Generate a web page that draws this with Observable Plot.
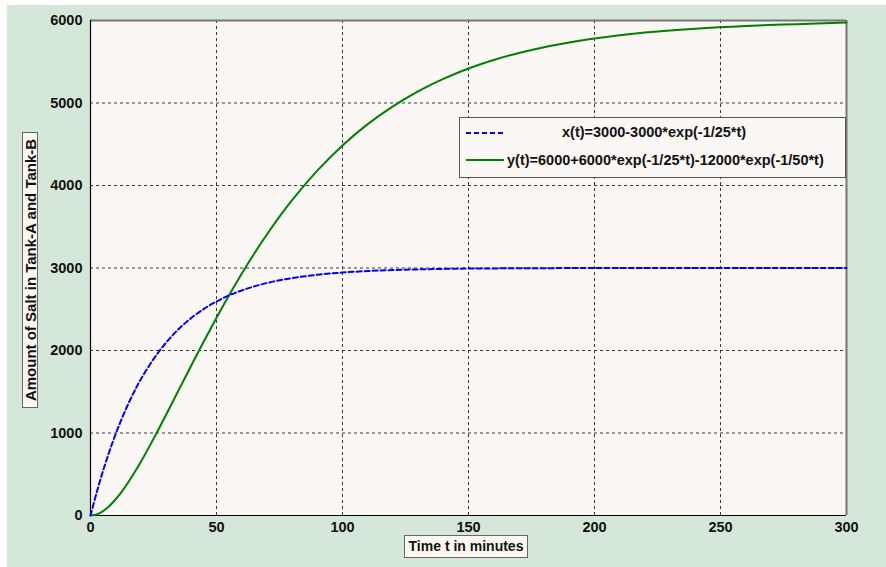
<!DOCTYPE html>
<html>
<head>
<meta charset="utf-8">
<script src="https://cdn.jsdelivr.net/npm/d3@7"></script>
<script src="https://cdn.jsdelivr.net/npm/@observablehq/plot@0.6"></script>
<style>
  html, body { margin: 0; padding: 0; background: #ffffff; }
  #wrap { position: relative; width: 886px; height: 567px; overflow: hidden; font-family: "Liberation Sans", Arial, sans-serif; }
  #bg { position: absolute; left: 7px; top: 5px; width: 879px; height: 562px; background: #d5e7d8; }
  #chart { position: absolute; left: 0; top: 0; }
  .lbl { position: absolute; background: #fdf8ef; border: 1px solid #666; font-weight: bold; color: #111; box-sizing: border-box; white-space: nowrap; }
  #legend { position: absolute; left: 459px; top: 117px; width: 387px; height: 61px; background: #faf7f5; border: 1px solid #555; box-sizing: border-box; }
  #legend .txt { position: absolute; font-weight: bold; font-size: 14.5px; color: #111; white-space: nowrap; }
</style>
</head>
<body>
<div id="wrap">
  <div id="bg"></div>
  <div id="chart"></div>
  <div class="lbl" id="ylab" style="left:22px; top:132px; width:16px; height:276px;">
    <div style="position:absolute; left:50%; top:50%; transform: translate(-50%,-50%) rotate(-90deg); font-size:15px;">Amount of Salt in Tank-A and Tank-B</div>
  </div>
  <div class="lbl" id="xlab" style="left:404px; top:535px; width:124px; height:23px; font-size:14px; text-align:center; line-height:21px;">Time t in minutes</div>
  <div id="legend"></div>
</div>
<script>
// Time samples (minutes)
const tValues = [0, 2.5, 5, 7.5, 10, 12.5, 15, 17.5, 20, 25, 30, 35, 40, 45, 50, 55, 60, 65, 70, 75, 80, 90, 100, 110, 120, 130, 140, 150, 160, 170, 180, 190, 200, 220, 240, 260, 280, 300];
// Tank-A salt x(t)
const xSeries = [0, 285, 544, 778, 989, 1180, 1354, 1510, 1652, 1896, 2096, 2260, 2394, 2504, 2594, 2668, 2728, 2777, 2818, 2851, 2878, 2918, 2945, 2963, 2975, 2983, 2989, 2993, 2995, 2997, 2998, 2999, 3000, 3000, 3000, 3000, 3000, 3000];
// Tank-B salt y(t)
const ySeries = [0, 14, 54, 116, 197, 293, 403, 524, 652, 929, 1221, 1521, 1819, 2113, 2397, 2670, 2930, 3176, 3406, 3622, 3822, 4180, 4486, 4744, 4960, 5142, 5292, 5418, 5521, 5607, 5677, 5734, 5782, 5854, 5901, 5934, 5956, 5975];
const xTicks = [0, 50, 100, 150, 200, 250, 300];
const yTicks = [0, 1000, 2000, 3000, 4000, 5000, 6000];
const seriesLabels = ["x(t)=3000-3000*exp(-1/25*t)", "y(t)=6000+6000*exp(-1/25*t)-12000*exp(-1/50*t)"];
const seriesColors = ["#0000ff", "#008000"];

const dataA = tValues.map((t, i) => ({t, v: xSeries[i]}));
const dataB = tValues.map((t, i) => ({t, v: ySeries[i]}));

const gridX = xTicks.slice(1, -1);
const gridY = yTicks.slice(1, -1);

const chart = Plot.plot({
  width: 886,
  height: 567,
  marginLeft: 90,
  marginRight: 40,
  marginTop: 20,
  marginBottom: 52,
  style: { background: "transparent", fontFamily: "Liberation Sans, Arial, sans-serif", fontSize: "14px", fontWeight: "bold", color: "#111" },
  x: { domain: [0, 300], ticks: xTicks, label: null },
  y: { domain: [0, 6000], ticks: yTicks, label: null },
  marks: [
    Plot.frame({ fill: "#faf7f5", stroke: null }),
    Plot.ruleX(gridX, { stroke: "#222", strokeOpacity: 0.9, strokeDasharray: "3,3", strokeWidth: 1 }),
    Plot.ruleY(gridY, { stroke: "#222", strokeOpacity: 0.9, strokeDasharray: "3,3", strokeWidth: 1 }),
    Plot.ruleY([6000], { stroke: "#777", strokeWidth: 2 }),
    Plot.ruleX([300], { stroke: "#777", strokeWidth: 2 }),
    Plot.ruleY([0], { stroke: "#000", strokeWidth: 1.2 }),
    Plot.ruleX([0], { stroke: "#000", strokeWidth: 1.2 }),
    Plot.axisX(xTicks, { tickSize: 0, tickPadding: 6, fontWeight: "bold", fontSize: 14.5, label: null, tickFormat: d3.format("d") }),
    Plot.axisY(yTicks, { tickSize: 0, tickPadding: 8, fontWeight: "bold", fontSize: 14.5, label: null, tickFormat: d3.format("d") }),
    Plot.line(dataB, { x: "t", y: "v", stroke: seriesColors[1], strokeWidth: 2, curve: "catmull-rom" }),
    Plot.line(dataA, { x: "t", y: "v", stroke: seriesColors[0], strokeWidth: 2, strokeDasharray: "5,3", curve: "catmull-rom" })
  ]
});
document.getElementById("chart").appendChild(chart);

// Legend
const legend = document.getElementById("legend");
const ns = "http://www.w3.org/2000/svg";
const sw = document.createElementNS(ns, "svg");
sw.setAttribute("width", 385); sw.setAttribute("height", 59);
sw.style.position = "absolute"; sw.style.left = "0"; sw.style.top = "0";
[[15, 0], [42, 1]].forEach(([y, i]) => {
  const l = document.createElementNS(ns, "line");
  l.setAttribute("x1", 6); l.setAttribute("x2", 44);
  l.setAttribute("y1", y); l.setAttribute("y2", y);
  l.setAttribute("stroke", seriesColors[i]);
  l.setAttribute("stroke-width", 2);
  if (i === 0) l.setAttribute("stroke-dasharray", "5,3");
  sw.appendChild(l);
});
legend.appendChild(sw);
const t1 = document.createElement("div");
t1.className = "txt"; t1.style.left = "102px"; t1.style.top = "6px"; t1.textContent = seriesLabels[0];
const t2 = document.createElement("div");
t2.className = "txt"; t2.style.left = "47px"; t2.style.top = "34px"; t2.textContent = seriesLabels[1];
legend.appendChild(t1); legend.appendChild(t2);
</script>
</body>
</html>
